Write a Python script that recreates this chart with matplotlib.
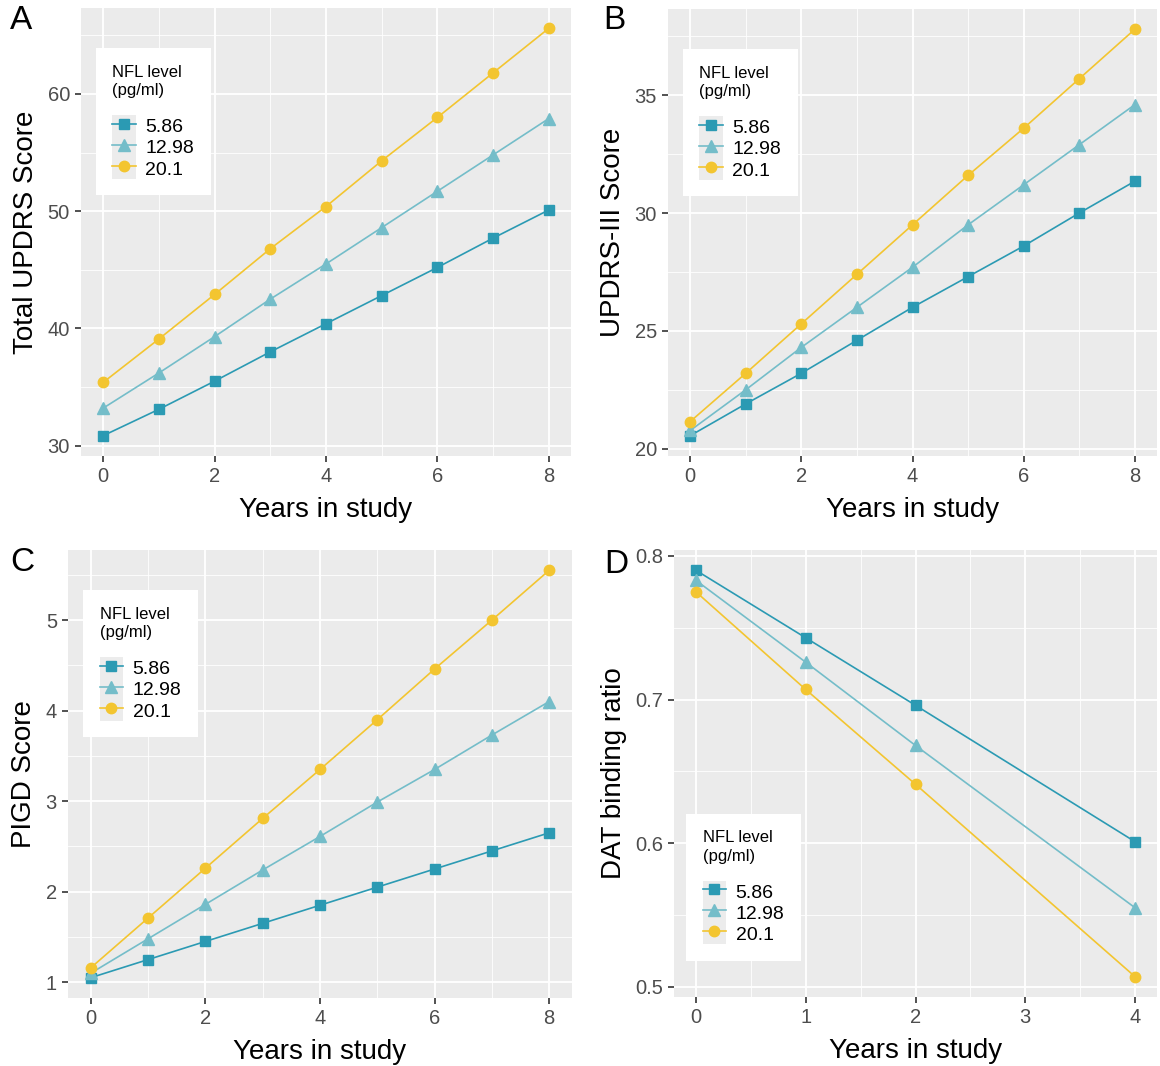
import numpy as np
import matplotlib
matplotlib.use("Agg")
import matplotlib.pyplot as plt
from matplotlib.ticker import MultipleLocator
from matplotlib.patches import Rectangle
from matplotlib.legend_handler import HandlerTuple

plt.rcParams['font.family'] = ['Liberation Sans', 'DejaVu Sans']

# --- data ---
years8 = [0, 1, 2, 3, 4, 5, 6, 7, 8]
years_dat = [0, 1, 2, 4]
nfl_levels = ['5.86', '12.98', '20.1']

updrs_low = [30.85, 33.1, 35.5, 38.0, 40.4, 42.8, 45.2, 47.7, 50.1]
updrs_mid = [33.2, 36.2, 39.3, 42.5, 45.5, 48.6, 51.7, 54.8, 57.9]
updrs_high = [35.4, 39.1, 42.9, 46.8, 50.4, 54.3, 58.0, 61.8, 65.6]

updrs3_low = [20.55, 21.9, 23.2, 24.6, 26.0, 27.3, 28.6, 30.0, 31.35]
updrs3_mid = [20.77, 22.5, 24.3, 26.0, 27.7, 29.5, 31.2, 32.9, 34.6]
updrs3_high = [21.15, 23.2, 25.3, 27.4, 29.5, 31.6, 33.6, 35.7, 37.8]

pigd_low = [1.05, 1.25, 1.45, 1.65, 1.85, 2.05, 2.25, 2.45, 2.65]
pigd_mid = [1.10, 1.48, 1.86, 2.24, 2.61, 2.99, 3.35, 3.73, 4.10]
pigd_high = [1.16, 1.71, 2.26, 2.81, 3.35, 3.90, 4.46, 5.00, 5.55]

dat_low = [0.790, 0.743, 0.696, 0.601]
dat_mid = [0.783, 0.726, 0.668, 0.555]
dat_high = [0.775, 0.707, 0.641, 0.507]

colors = ['#2b9ab3', '#74bdc9', '#f3c530']
markers = ['s', '^', 'o']
msizes = [7, 8, 7.5]

W, H = 1160, 1066
fig = plt.figure(figsize=(W / 100, H / 100), dpi=100)


def add_axes_px(x0, y0, x1, y1):
    return fig.add_axes([x0 / W, 1 - y1 / H, (x1 - x0) / W, (y1 - y0) / H])


def draw_panel(ax, x, series, ylabel, ystep, xstep, legend_anchor):
    ax.set_facecolor('#ebebeb')
    handles = []
    for s, c, m, ms in zip(series, colors, markers, msizes):
        line, = ax.plot(x, s, color=c, marker=m, markersize=ms, linewidth=1.2)
        key = Rectangle((0, 0), 1, 1, facecolor='#ececec', edgecolor='none')
        handles.append((key, line))
    ax.yaxis.set_major_locator(MultipleLocator(ystep))
    ax.yaxis.set_minor_locator(MultipleLocator(ystep / 2))
    ax.xaxis.set_major_locator(MultipleLocator(xstep))
    ax.xaxis.set_minor_locator(MultipleLocator(xstep / 2))
    ax.grid(which='major', color='white', linewidth=1.3)
    ax.grid(which='minor', color='white', linewidth=0.6)
    ax.set_axisbelow(True)
    for sp in ax.spines.values():
        sp.set_visible(False)
    ax.tick_params(which='major', length=4, width=1.2, color='#333333',
                   labelsize=14.5, labelcolor='#4d4d4d', pad=4)
    ax.tick_params(which='minor', length=0)
    ax.set_xlabel('Years in study', fontsize=20, labelpad=8)
    ax.set_ylabel(ylabel, fontsize=20, labelpad=6)
    leg = ax.legend(handles, nfl_levels, loc='upper left',
                    bbox_to_anchor=legend_anchor,
                    handler_map={tuple: HandlerTuple(ndivide=1, pad=0)},
                    title='NFL level\n(pg/ml)', fontsize=14,
                    title_fontsize=12, frameon=True, fancybox=False,
                    framealpha=1, edgecolor='white', handlelength=1.2,
                    handleheight=1.3, handletextpad=0.5, labelspacing=0.0,
                    borderpad=0.85, borderaxespad=0)
    leg._legend_box.align = 'left'
    leg._legend_box.sep = 12
    leg.get_title().set_linespacing(1.3)
    leg.get_frame().set_linewidth(0)


axA = add_axes_px(81, 8, 571, 456)
draw_panel(axA, years8, [updrs_low, updrs_mid, updrs_high],
           'Total UPDRS Score', 10, 2, (0.03, 0.91))

axB = add_axes_px(668, 9, 1157, 456)
draw_panel(axB, years8, [updrs3_low, updrs3_mid, updrs3_high],
           'UPDRS-III Score', 5, 2, (0.03, 0.91))

axC = add_axes_px(68, 550, 572, 998)
draw_panel(axC, years8, [pigd_low, pigd_mid, pigd_high],
           'PIGD Score', 1, 2, (0.03, 0.91))

axD = add_axes_px(674, 550, 1157, 997)
draw_panel(axD, years_dat, [dat_low, dat_mid, dat_high],
           'DAT binding ratio', 0.1, 1, (0.025, 0.41))

for lab, px, py in [('A', 10, 5), ('B', 603, 5), ('C', 10, 547), ('D', 604, 549)]:
    fig.text(px / W, 1 - py / H, lab, fontsize=24, va='top', ha='left')

fig.savefig('out.png', dpi=100)
